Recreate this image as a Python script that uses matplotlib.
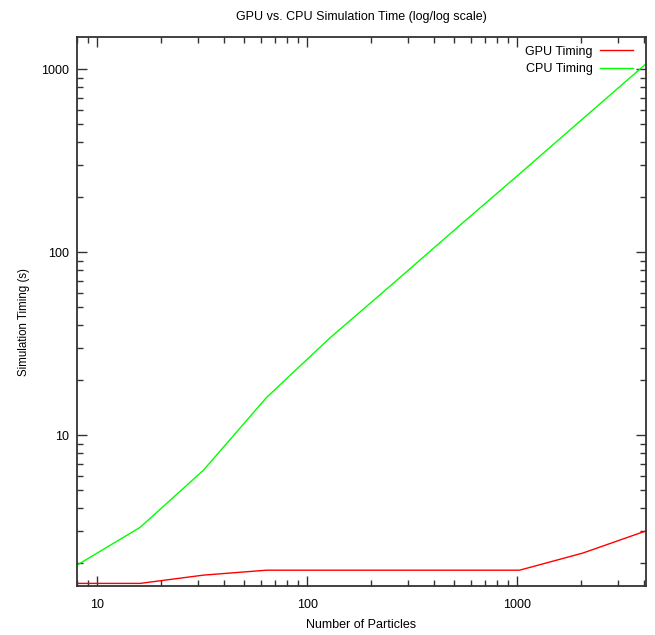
import matplotlib
matplotlib.use("Agg")
import matplotlib.pyplot as plt
from matplotlib.ticker import LogLocator, NullFormatter, FixedLocator, FixedFormatter

plt.rcParams['font.family'] = ['Liberation Sans', 'DejaVu Sans']

particles = [8, 16, 32, 64, 128, 256, 512, 1024, 2048, 4096]
gpu_time = [1.55, 1.55, 1.72, 1.83, 1.83, 1.83, 1.83, 1.83, 2.27, 3.0]
cpu_time = [1.95, 3.14, 6.44, 16.1, 34.0, 67.5, 135, 268, 536, 1070]

fig = plt.figure(figsize=(6.55, 6.35), dpi=100)
ax = fig.add_axes([77 / 655, 1 - 586 / 635, 569 / 655, 549 / 635])

ax.plot(particles, gpu_time, color='#ff0000', lw=1.0, label='GPU Timing')
ax.plot(particles, cpu_time, color='#00ff00', lw=1.0, label='CPU Timing')

ax.set_xscale('log')
ax.set_yscale('log')
ax.set_xlim(8, 4096)
ax.set_ylim(1.5, 1500)

ax.xaxis.set_major_locator(FixedLocator([10, 100, 1000]))
ax.xaxis.set_major_formatter(FixedFormatter(['10', '100', '1000']))
ax.yaxis.set_major_locator(FixedLocator([10, 100, 1000]))
ax.yaxis.set_major_formatter(FixedFormatter(['10', '100', '1000']))
ax.xaxis.set_minor_locator(LogLocator(base=10, subs=range(2, 10)))
ax.yaxis.set_minor_locator(LogLocator(base=10, subs=range(2, 10)))
ax.xaxis.set_minor_formatter(NullFormatter())
ax.yaxis.set_minor_formatter(NullFormatter())

ax.tick_params(which='both', direction='in', top=True, right=True,
               color='#333333', labelsize=9)
ax.tick_params(which='major', length=7, width=1)
ax.tick_params(which='minor', length=4, width=1)
ax.tick_params(axis='x', pad=9)
ax.tick_params(axis='y', pad=6)
for s in ax.spines.values():
    s.set_color('#333333')
    s.set_linewidth(1.3)

ax.set_title('GPU vs. CPU Simulation Time (log/log scale)', fontsize=9, pad=12)
ax.set_xlabel('Number of Particles', fontsize=9, labelpad=6)
ax.set_ylabel('Simulation Timing (s)', fontsize=8.3)
ax.yaxis.set_label_coords(-0.083, 0.481)

ax.legend(loc='upper right', bbox_to_anchor=(1 - 4 / 569, 1.0),
          frameon=False, markerfirst=False, fontsize=9,
          handlelength=2.64, handletextpad=0.6, borderaxespad=0.3,
          labelspacing=0.41)

fig.savefig('out.png', dpi=100)
